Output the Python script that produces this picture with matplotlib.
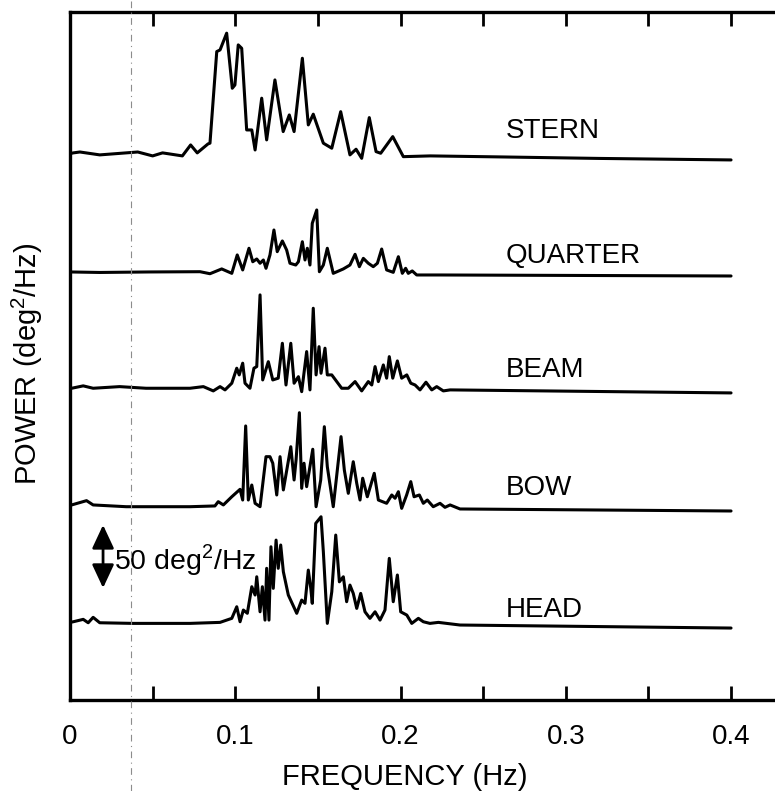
import numpy as np
import matplotlib
matplotlib.use("Agg")
import matplotlib.pyplot as plt
from matplotlib.lines import Line2D
from matplotlib.patches import FancyArrowPatch

plt.rcParams['font.family'] = ['Liberation Sans', 'DejaVu Sans']

# roll spectra (deg^2/Hz) for each heading, frequency in Hz
stern_f = [0.0, 0.002, 0.006, 0.018, 0.041, 0.050, 0.056, 0.068, 0.073, 0.077, 0.0835, 0.0847,
           0.0888, 0.0908, 0.0948, 0.0982, 0.0998, 0.1018, 0.1039, 0.1069, 0.110, 0.112, 0.116,
           0.119, 0.124, 0.129, 0.1327, 0.1356, 0.1406, 0.1442, 0.1472, 0.1533, 0.1584, 0.1638,
           0.1694, 0.1731, 0.1765, 0.1811, 0.1852, 0.188, 0.1953, 0.2017, 0.218, 0.26, 0.32, 0.4]
stern_p = [5.0, 5.6, 6.3, 4.0, 6.3, 3.2, 5.6, 3.2, 11.9, 5.6, 12.7, 13.3,
           86.0, 87.3, 100.6, 56.9, 59.5, 91.3, 88.6, 23.8, 23.8, 7.9, 49.0,
           15.9, 63.5, 22.5, 35.7, 22.5, 80.7, 27.8, 36.3, 13.3, 9.3, 38.3,
           4.0, 8.5, 1.3, 33.6, 6.6, 5.3, 18.5, 2.6, 3.2, 2.4, 1.2, 0.0]

quarter_f = [0.0, 0.018, 0.048, 0.0787, 0.0847, 0.0877, 0.0918, 0.0979, 0.1012, 0.1045, 0.1083,
             0.1106, 0.113, 0.115, 0.117, 0.1186, 0.121, 0.1234, 0.1254, 0.1285, 0.1311, 0.1331,
             0.1366, 0.1382, 0.1406, 0.1422, 0.1436, 0.1452, 0.1466, 0.1493, 0.1509, 0.1533,
             0.1557, 0.1593, 0.1654, 0.1694, 0.1725, 0.1751, 0.1775, 0.1805, 0.1835, 0.186,
             0.1886, 0.1916, 0.1956, 0.1987, 0.2011, 0.2031, 0.2047, 0.2071, 0.2098, 0.224, 0.4]
quarter_p = [3.2, 2.8, 3.2, 3.4, 1.8, 3.4, 5.6, 2.1, 16.7, 4.8, 22.0,
             11.3, 13.5, 10.1, 12.7, 6.1, 16.7, 36.5, 19.3, 27.8, 20.6, 10.1,
             8.7, 11.3, 27.2, 12.7, 22.0, 8.7, 41.8, 52.4, 3.4, 8.7,
             22.0, 2.1, 5.6, 8.7, 17.2, 7.4, 14.0, 10.1, 7.4, 10.1,
             21.4, 4.8, 2.9, 15.3, 2.1, 6.1, 2.1, 4.0, 0.8, 0.8, 0.0]

beam_f = [0.0, 0.001, 0.008, 0.014, 0.030, 0.046, 0.0726, 0.0807, 0.0867, 0.0908, 0.0938, 0.0979,
          0.1009, 0.1024, 0.1045, 0.1059, 0.1089, 0.1113, 0.113, 0.115, 0.1166, 0.120, 0.1227,
          0.126, 0.1285, 0.1307, 0.1336, 0.1356, 0.1382, 0.1402, 0.1432, 0.1452, 0.1472, 0.1489,
          0.1507, 0.1519, 0.1543, 0.1557, 0.1584, 0.1644, 0.1684, 0.1725, 0.1765, 0.1805, 0.1826,
          0.1846, 0.1866, 0.1896, 0.1916, 0.1932, 0.1953, 0.1981, 0.2007, 0.2038, 0.2062, 0.2088,
          0.2118, 0.2154, 0.2189, 0.2219, 0.2259, 0.230, 0.4]
beam_p = [3.7, 3.7, 5.6, 3.7, 5.0, 3.7, 3.7, 5.0, 1.6, 5.0, 2.4, 7.7,
          19.6, 14.3, 23.6, 7.7, 3.7, 19.6, 20.9, 77.8, 10.3, 24.8, 10.3,
          11.7, 39.4, 6.3, 39.4, 7.7, 12.9, 1.0, 32.8, 2.4, 67.2, 14.3,
          36.7, 15.6, 35.5, 14.3, 14.3, 3.7, 3.7, 9.0, 1.6, 9.0, 6.3,
          20.9, 9.0, 22.2, 11.7, 28.8, 11.7, 25.4, 11.7, 14.3, 7.7, 6.3,
          2.4, 8.5, 2.4, 5.0, 1.6, 2.4, 0.0]

bow_f = [0.0, 0.001, 0.010, 0.014, 0.034, 0.0726, 0.0877, 0.0897, 0.0928, 0.0979, 0.1029, 0.1045,
         0.1063, 0.1079, 0.110, 0.112, 0.115, 0.1186, 0.121, 0.1227, 0.1251, 0.1271, 0.1291,
         0.1336, 0.1356, 0.1368, 0.1388, 0.1402, 0.1416, 0.1432, 0.1469, 0.1489, 0.1517, 0.1539,
         0.1557, 0.1593, 0.164, 0.166, 0.1684, 0.1714, 0.1735, 0.1755, 0.1771, 0.1799, 0.1841,
         0.1866, 0.1916, 0.1947, 0.1967, 0.1987, 0.2007, 0.2037, 0.2062, 0.2082, 0.2114, 0.2138,
         0.2162, 0.2198, 0.2239, 0.2269, 0.230, 0.236, 0.4]
bow_p = [4.8, 4.8, 8.2, 4.8, 3.4, 3.4, 4.0, 7.4, 4.8, 11.3, 17.2, 8.7,
         67.5, 8.7, 20.6, 6.1, 3.4, 43.1, 43.1, 37.9, 12.7, 43.1, 16.7,
         51.0, 24.6, 40.5, 78.0, 18.0, 37.9, 19.3, 49.0, 3.4, 24.6, 66.9,
         35.2, 3.4, 59.0, 32.5, 14.0, 39.1, 22.0, 8.7, 26.0, 11.3, 29.9,
         8.7, 6.1, 12.7, 10.1, 15.3, 2.1, 12.7, 23.3, 11.3, 12.7, 6.1,
         8.7, 3.4, 6.1, 2.9, 4.8, 1.6, 0.0]

head_f = [0.0, 0.002, 0.008, 0.011, 0.014, 0.018, 0.038, 0.0726, 0.0908, 0.0979, 0.1009, 0.1029,
          0.1049, 0.1073, 0.110, 0.112, 0.113, 0.115, 0.1164, 0.118, 0.119, 0.1204, 0.1216,
          0.123, 0.1247, 0.126, 0.1275, 0.1291, 0.1321, 0.1372, 0.1402, 0.1422, 0.1442, 0.1457,
          0.1466, 0.1487, 0.1519, 0.1533, 0.1557, 0.1584, 0.1608, 0.163, 0.1654, 0.1674, 0.1694,
          0.1714, 0.1735, 0.1759, 0.1785, 0.1815, 0.1846, 0.1876, 0.1906, 0.1932, 0.1956, 0.1981,
          0.2001, 0.2038, 0.2068, 0.2108, 0.2138, 0.2178, 0.2229, 0.236, 0.4]
head_p = [4.5, 5.0, 6.9, 4.2, 8.5, 4.2, 3.7, 3.7, 4.5, 7.7, 16.9, 5.0,
          14.3, 11.7, 32.8, 26.2, 40.7, 12.9, 32.8, 6.3, 47.4, 6.3, 64.5,
          31.5, 69.8, 47.4, 65.9, 44.7, 26.2, 11.7, 22.2, 19.6, 46.0, 31.5,
          19.6, 83.1, 88.3, 60.6, 3.7, 28.8, 73.8, 36.7, 40.7, 20.9, 34.1,
          27.5, 15.6, 27.5, 12.9, 7.7, 12.9, 6.3, 14.3, 55.3, 20.9, 42.1,
          12.9, 10.3, 3.7, 7.7, 5.0, 3.7, 4.5, 2.4, 0.0]

names = ["STERN", "QUARTER", "BEAM", "BOW", "HEAD"]
freqs = [stern_f, quarter_f, beam_f, bow_f, head_f]
powers = [stern_p, quarter_p, beam_p, bow_p, head_p]

# vertical stacking of the traces (deg^2/Hz)
offsets = [428.6, 336.5, 243.7, 150.0, 57.1]
label_y = [446.0, 346.8, 256.3, 162.7, 66.0]

fig = plt.figure(figsize=(7.75, 7.91), dpi=100)
ax = fig.add_axes([70 / 775, 91 / 791, 705 / 775, 688 / 791])

for f, p, off in zip(freqs, powers, offsets):
    ax.plot(f, np.array(p) + off, color='black', lw=2.2,
            solid_joinstyle='round', solid_capstyle='round')

for name, y in zip(names, label_y):
    ax.text(0.2638, y, name, fontsize=20, va='baseline', ha='left')

# 50 deg^2/Hz scale bar
bar_bottom = 88.9
arrow = FancyArrowPatch((0.020, bar_bottom), (0.020, bar_bottom + 50),
                        arrowstyle='<|-|>,head_length=0.9,head_width=0.42',
                        mutation_scale=16, color='black', lw=2.0, shrinkA=0, shrinkB=0)
ax.add_patch(arrow)
ax.text(0.0268, bar_bottom + 22, r'50 deg$^{\mathregular{2}}$/Hz', fontsize=20.5,
        va='center', ha='left')

ax.set_xlim(0, 0.4266)
ax.set_ylim(0, 546)
ax.set_xticks([0, 0.1, 0.2, 0.3, 0.4])
ax.set_xticklabels(['0', '0.1', '0.2', '0.3', '0.4'])
ax.set_xticks([0.05, 0.15, 0.25, 0.35], minor=True)
ax.set_yticks([])
ax.tick_params(axis='x', which='both', direction='in', top=True, bottom=True,
               length=10, width=2.0, labelsize=20, pad=17)
ax.spines['right'].set_visible(False)
for s in ['left', 'top', 'bottom']:
    ax.spines[s].set_linewidth(2.4)

fig.text(405 / 775, 1 - 777 / 791, 'FREQUENCY (Hz)', fontsize=21, ha='center', va='center')
fig.text(27 / 775, 1 - 364 / 791, r'POWER (deg$^{\mathregular{2}}$/Hz)', fontsize=21,
         ha='center', va='center', rotation=90)

# faint fold line running down the page
fig.add_artist(Line2D([131 / 775, 131 / 775], [0, 1], transform=fig.transFigure,
                      color='0.55', lw=0.8, ls=(0, (6, 4, 1, 4))))

fig.savefig('out.png', dpi=100)
